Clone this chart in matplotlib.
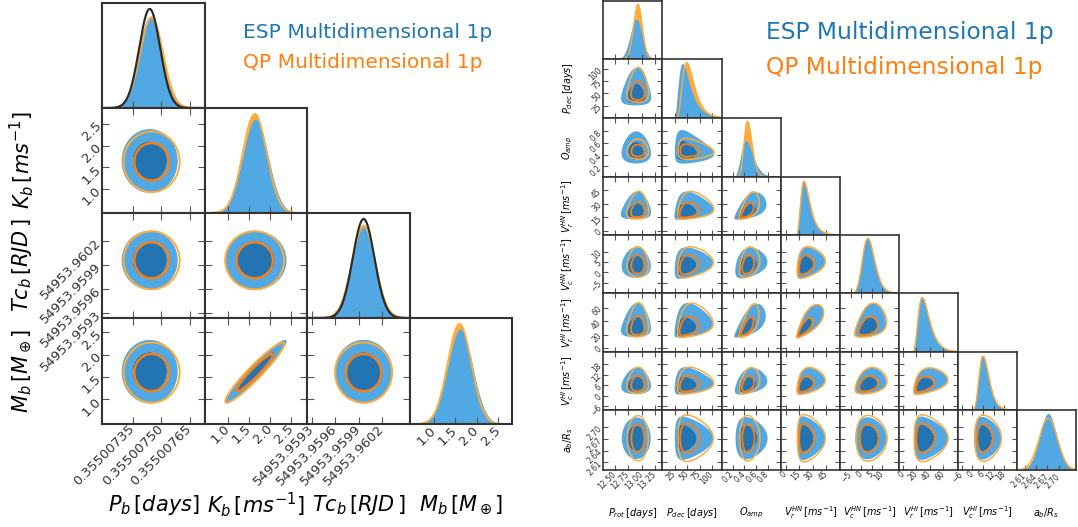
import numpy as np
import matplotlib.pyplot as plt

W, H = 1078, 527

# colours
esp_light, esp_dark = '#52a8e3', '#2274b2'
qp_light, qp_dark = '#ffab3c', '#ff7f0e'
frame_col = '#333333'

# ---------- left triangle: planet b ----------
left_labels = [r'$P_b\,[days]$', r'$K_b\,[ms^{-1}]$', r'$Tc_b\,[RJD\,]$', r'$M_b\,[M_\oplus]$']
left_lims = [(0.35500719, 0.35500773), (0.45, 2.87), (54953.95924, 54953.96055), (0.45, 2.82)]
left_ticks = [[0.35500735, 0.35500750, 0.35500765],
              [1.0, 1.5, 2.0, 2.5],
              [54953.9593, 54953.9596, 54953.9599, 54953.9602],
              [1.0, 1.5, 2.0, 2.5]]
left_ticklabels = [['0.35500735', '0.35500750', '0.35500765'],
                   ['1.0', '1.5', '2.0', '2.5'],
                   ['54953.9593', '54953.9596', '54953.9599', '54953.9602'],
                   ['1.0', '1.5', '2.0', '2.5']]
esp_left_mean = [0.35500744, 1.65, 54953.95996, 1.62]
esp_left_sig = [6.0e-8, 0.30, 0.000150, 0.29]
qp_left_mean = [0.35500745, 1.63, 54953.95996, 1.60]
qp_left_sig = [6.0e-8, 0.285, 0.000148, 0.275]
ref_left_sig = [5.5e-8, None, 0.000138, None]   # dark outline on two diagonals
left_rho = [[],
            [0.0],
            [0.0, 0.0],
            [0.0, 0.95, 0.0]]

# ---------- right triangle: activity + planet ----------
right_labels = [r'$P_{rot}\,[days]$', r'$P_{dec}\,[days]$', r'$O_{amp}$',
                r'$V_r^{HN}\,[ms^{-1}]$', r'$V_c^{HN}\,[ms^{-1}]$',
                r'$V_r^{HI}\,[ms^{-1}]$', r'$V_c^{HI}\,[ms^{-1}]$', r'$a_b/R_s$']
right_lims = [(12.28, 13.38), (0, 120), (0.02, 1.03), (-5, 60),
              (-10, 18), (-6, 82), (-8, 25), (2.59, 2.745)]
right_ticks = [[12.5, 12.75, 13.0, 13.25], [25, 50, 75, 100], [0.2, 0.4, 0.6, 0.8],
               [0, 15, 30, 45], [-5, 0, 5, 10], [0, 20, 40, 60],
               [-6, 0, 6, 12, 18], [2.61, 2.64, 2.67, 2.70]]
right_ticklabels = [['12.50', '12.75', '13.00', '13.25'], ['25', '50', '75', '100'],
                    ['0.2', '0.4', '0.6', '0.8'], ['0', '15', '30', '45'],
                    ['\u22125', '0', '5', '10'], ['0', '20', '40', '60'],
                    ['\u22126', '0', '6', '12', '18'], ['2.61', '2.64', '2.67', '2.70']]
esp_loc = [12.90, 48.0, 0.46, 22.0, 3.5, 32.0, 6.5, 2.672]
esp_scale = [0.11, 15.0, 0.11, 6.0, 3.0, 10.0, 3.0, 0.022]
esp_skew = [0.0, 0.55, 0.3, 0.5, 0.2, 0.5, 0.35, 0.0]
qp_loc = [12.93, 55.0, 0.47, 23.0, 3.8, 33.0, 7.0, 2.672]
qp_scale = [0.08, 14.0, 0.07, 6.0, 3.0, 10.0, 3.0, 0.024]
qp_skew = [0.0, 0.45, 0.2, 0.45, 0.2, 0.45, 0.3, 0.0]
right_rho = [[],
             [0.05],
             [0.0, -0.05],
             [0.1, 0.3, 0.6],
             [0.0, 0.25, 0.3, 0.3],
             [0.1, 0.35, 0.7, 0.8, 0.4],
             [0.05, 0.2, 0.4, 0.4, 0.3, 0.45],
             [0.0, 0.0, 0.0, 0.0, 0.0, 0.0, 0.0]]


def zmap(x, loc, scale, k):
    # skewed (shifted log) transform to a standard normal variable
    if k == 0:
        return (x - loc) / scale, np.full_like(x, 1.0 / scale)
    u = 1 + k * (x - loc) / scale
    good = u > 1e-9
    us = np.where(good, u, 1.0)
    z = np.where(good, np.log(us) / k, -40.0)
    jac = np.where(good, 1.0 / (scale * us), 0.0)
    return z, jac


def pdf1(x, p):
    z, j = zmap(x, *p)
    return np.exp(-0.5 * z ** 2) * j / np.sqrt(2 * np.pi)


def pdf2(x, y, px, py, rho):
    zx, jx = zmap(x, *px)
    zy, jy = zmap(y, *py)
    q = (zx ** 2 - 2 * rho * zx * zy + zy ** 2) / (1 - rho ** 2)
    return np.exp(-0.5 * q) * jx * jy


def levels(p):
    s = np.sort(p.ravel())[::-1]
    c = np.cumsum(s)
    c /= c[-1]
    return s[np.searchsorted(c, 0.95)], s[np.searchsorted(c, 0.68)]


fig = plt.figure(figsize=(W / 100, H / 100), dpi=100)


def draw_corner(ex, ey, labels, lims, ticks, tlabels, esp, qp, rho, ref,
                tfs, tlen, flw, lw, lab_fs, xlab_y, ylab_x):
    n = len(labels)
    for i in range(n):
        for j in range(i + 1):
            x0, x1 = ex[j], ex[j + 1]
            y0, y1 = ey[i], ey[i + 1]
            ax = fig.add_axes([x0 / W, 1 - y1 / H, (x1 - x0) / W, (y1 - y0) / H])
            for s in ax.spines.values():
                s.set_color(frame_col)
                s.set_linewidth(flw)
            xs = np.linspace(lims[j][0], lims[j][1], 400)
            if i == j:
                pe = pdf1(xs, esp[j])
                pq = pdf1(xs, qp[j])
                top = max(pe.max(), pq.max())
                ax.fill_between(xs, 0, pq, color=qp_light, lw=0)
                ax.fill_between(xs, 0, pe, color=esp_light, lw=0)
                ax.plot(xs, pq, color=qp_light, lw=lw)
                if ref is not None and ref[j] is not None:
                    pr = pdf1(xs, (esp[j][0], ref[j], 0.0))
                    ax.plot(xs, pr, color='#2a2a2a', lw=lw * 1.2)
                    top = max(top, pr.max())
                ax.set_ylim(0, top * 1.06)
                ax.set_yticks([])
                ax.tick_params(axis='x', direction='in', length=tlen, width=0.8,
                               color='#555555', labelsize=tfs, labelcolor='#333333',
                               top=False)
            else:
                gx = np.linspace(lims[j][0], lims[j][1], 260)
                gy = np.linspace(lims[i][0], lims[i][1], 260)
                X, Y = np.meshgrid(gx, gy)
                r = rho[i][j]
                de = pdf2(X, Y, esp[j], esp[i], r)
                l95, l68 = levels(de)
                ax.contourf(X, Y, de, levels=[l95, l68, de.max() * 1.01],
                            colors=[esp_light, esp_dark], antialiased=True)
                dq = pdf2(X, Y, qp[j], qp[i], r)
                q95, q68 = levels(dq)
                ax.contour(X, Y, dq, levels=[q95, q68], colors=[qp_light, qp_dark],
                           linewidths=[lw * 1.1, lw * 1.3])
                ax.set_ylim(lims[i])
                ax.set_yticks(ticks[i])
                ax.set_yticklabels(tlabels[i] if j == 0 else [])
                ax.tick_params(direction='in', length=tlen, width=0.8, color='#555555',
                               labelsize=tfs, labelcolor='#333333',
                               top=True, right=True, pad=2)
                for t in ax.get_yticklabels():
                    t.set_rotation(45)
                    t.set_ha('right')
                    t.set_va('center')
                    t.set_rotation_mode('anchor')
            ax.set_xlim(lims[j])
            ax.set_xticks(ticks[j])
            ax.set_xticklabels(tlabels[j] if i == n - 1 else [])
            for t in ax.get_xticklabels():
                t.set_rotation(45)
                t.set_ha('right')
                t.set_va('center')
                t.set_rotation_mode('anchor')
            if i == n - 1:
                fig.text((x0 + x1) / 2 / W, 1 - xlab_y / H, labels[j],
                         fontsize=lab_fs, ha='center', va='center')
            if j == 0 and i > 0:
                fig.text(ylab_x / W, 1 - (y0 + y1) / 2 / H, labels[i],
                         fontsize=lab_fs, ha='center', va='center', rotation=90)


esp_left = list(zip(esp_left_mean, esp_left_sig, [0.0] * 4))
qp_left = list(zip(qp_left_mean, qp_left_sig, [0.0] * 4))
draw_corner([102, 205, 307, 410, 512], [3, 108, 213, 318, 424],
            left_labels, left_lims, left_ticks, left_ticklabels,
            esp_left, qp_left, left_rho, ref_left_sig,
            tfs=9.5, tlen=5, flw=1.5, lw=1.3, lab_fs=15, xlab_y=505, ylab_x=22)

esp_right = list(zip(esp_loc, esp_scale, esp_skew))
qp_right = list(zip(qp_loc, qp_scale, qp_skew))
draw_corner([603, 662, 722, 781, 840, 899, 958, 1017, 1076],
            [1, 59, 118, 177, 235, 293, 352, 410, 470],
            right_labels, right_lims, right_ticks, right_ticklabels,
            esp_right, qp_right, right_rho, None,
            tfs=5.5, tlen=3.5, flw=1.2, lw=1.0, lab_fs=7, xlab_y=513, ylab_x=568)

# legend texts
fig.text(243 / W, 1 - 32 / H, 'ESP Multidimensional 1p', color='#1f77b4', fontsize=14.6, va='center')
fig.text(243 / W, 1 - 62 / H, 'QP Multidimensional 1p', color='#ff7f0e', fontsize=14.6, va='center')
fig.text(766 / W, 1 - 33 / H, 'ESP Multidimensional 1p', color='#1f77b4', fontsize=16.8, va='center')
fig.text(766 / W, 1 - 67 / H, 'QP Multidimensional 1p', color='#ff7f0e', fontsize=16.8, va='center')

fig.savefig('out.png', dpi=100)
